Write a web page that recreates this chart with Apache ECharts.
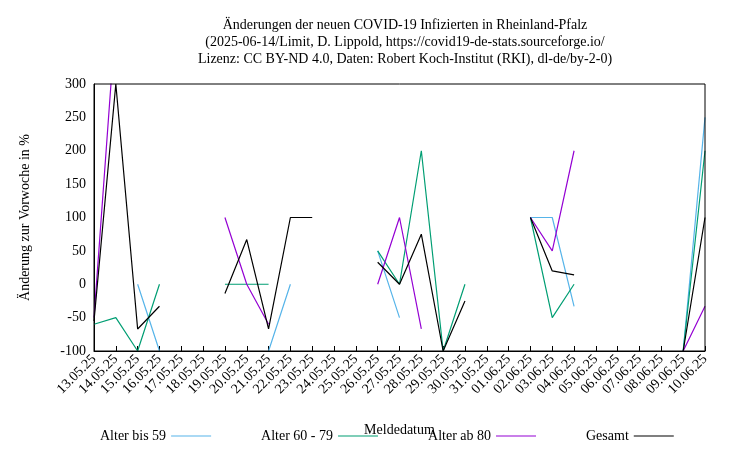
<!DOCTYPE html>
<html><head><meta charset="utf-8">
<script src="https://cdn.jsdelivr.net/npm/echarts@6/dist/echarts.min.js"></script>
<style>body{margin:0}#c{width:750px;height:450px}</style></head>
<body><div id="c"></div>
<script>
const categories=["13.05.25","14.05.25","15.05.25","16.05.25","17.05.25","18.05.25","19.05.25","20.05.25","21.05.25","22.05.25","23.05.25","24.05.25","25.05.25","26.05.25","27.05.25","28.05.25","29.05.25","30.05.25","31.05.25","01.06.25","02.06.25","03.06.25","04.06.25","05.06.25","06.06.25","07.06.25","08.06.25","09.06.25","10.06.25"];
const n=null;
const bis59=[n,n,0,-100,n,n,n,n,-100,0,n,n,n,50,-50,n,-100,n,n,n,100,100,-33,n,n,n,n,-100,250];
const a6079=[-60,-50,-100,0,n,n,0,0,0,n,n,n,n,50,0,200,-100,0,n,n,100,-50,0,n,n,n,n,-100,200];
const ab80=[-50,400,n,n,n,n,100,0,-60,n,n,n,n,0,100,-67,n,n,n,n,100,50,200,n,n,n,n,-100,-33];
const gesamt=[-55,300,-67,-33,n,n,-14,67,-67,100,100,n,n,33,0,75,-100,-25,n,n,100,20,14,n,n,n,n,-100,100];
const yTicks=[-100,-50,0,50,100,150,200,250,300];
const F='Liberation Serif';
const mk=(name,data,color)=>({name,type:'line',data,showSymbol:false,connectNulls:false,lineStyle:{color,width:1.2},itemStyle:{color},animation:false,clip:true});
const chart=echarts.init(document.getElementById('c'));
chart.setOption({
 title:{text:'Änderungen der neuen COVID-19 Infizierten in Rheinland-Pfalz\n(2025-06-14/Limit, D. Lippold, https://covid19-de-stats.sourceforge.io/\nLizenz: CC BY-ND 4.0, Daten: Robert Koch-Institut (RKI), dl-de/by-2-0)',
  left:400,top:12,textAlign:'center',textStyle:{fontFamily:F,fontSize:14,fontWeight:'normal',lineHeight:17,color:'#000'}},
 grid:{left:94,right:45,top:84,bottom:99},
 legend:{bottom:2,left:95,itemGap:50,align:'right',itemWidth:40,icon:'path://M0,0H40V1H0Z',
  textStyle:{fontFamily:F,fontSize:14,color:'#000'},
  data:['Alter bis 59','Alter 60 - 79','Alter ab 80','Gesamt']},
 xAxis:{type:'category',data:categories,boundaryGap:false,name:'Meldedatum',nameLocation:'middle',nameGap:72,
  nameTextStyle:{fontFamily:F,fontSize:14,color:'#000'},
  axisLine:{onZero:false,lineStyle:{color:'#000'}},axisTick:{inside:true,alignWithLabel:true,lineStyle:{color:'#000'}},
  axisLabel:{rotate:45,fontFamily:F,fontSize:14,color:'#000',interval:0,margin:6},splitLine:{show:false}},
 yAxis:{type:'value',min:-100,max:300,interval:50,name:'Änderung zur Vorwoche in %',nameLocation:'middle',nameGap:62,
  nameTextStyle:{fontFamily:F,fontSize:14,color:'#000'},
  axisLine:{show:true,lineStyle:{color:'#000'}},axisTick:{inside:true,lineStyle:{color:'#000'}},
  axisLabel:{fontFamily:F,fontSize:14,color:'#000',formatter:v=>yTicks.includes(v)?String(v):''},splitLine:{show:false}},
 graphic:[{type:'rect',shape:{x:94,y:84,width:611,height:267},style:{fill:'none',stroke:'#000',lineWidth:1},silent:true,z:10}],
 series:[mk('Alter bis 59',bis59,'#56b4e9'),mk('Alter 60 - 79',a6079,'#009e73'),mk('Alter ab 80',ab80,'#9400d3'),mk('Gesamt',gesamt,'#000')]
});
</script></body></html>
